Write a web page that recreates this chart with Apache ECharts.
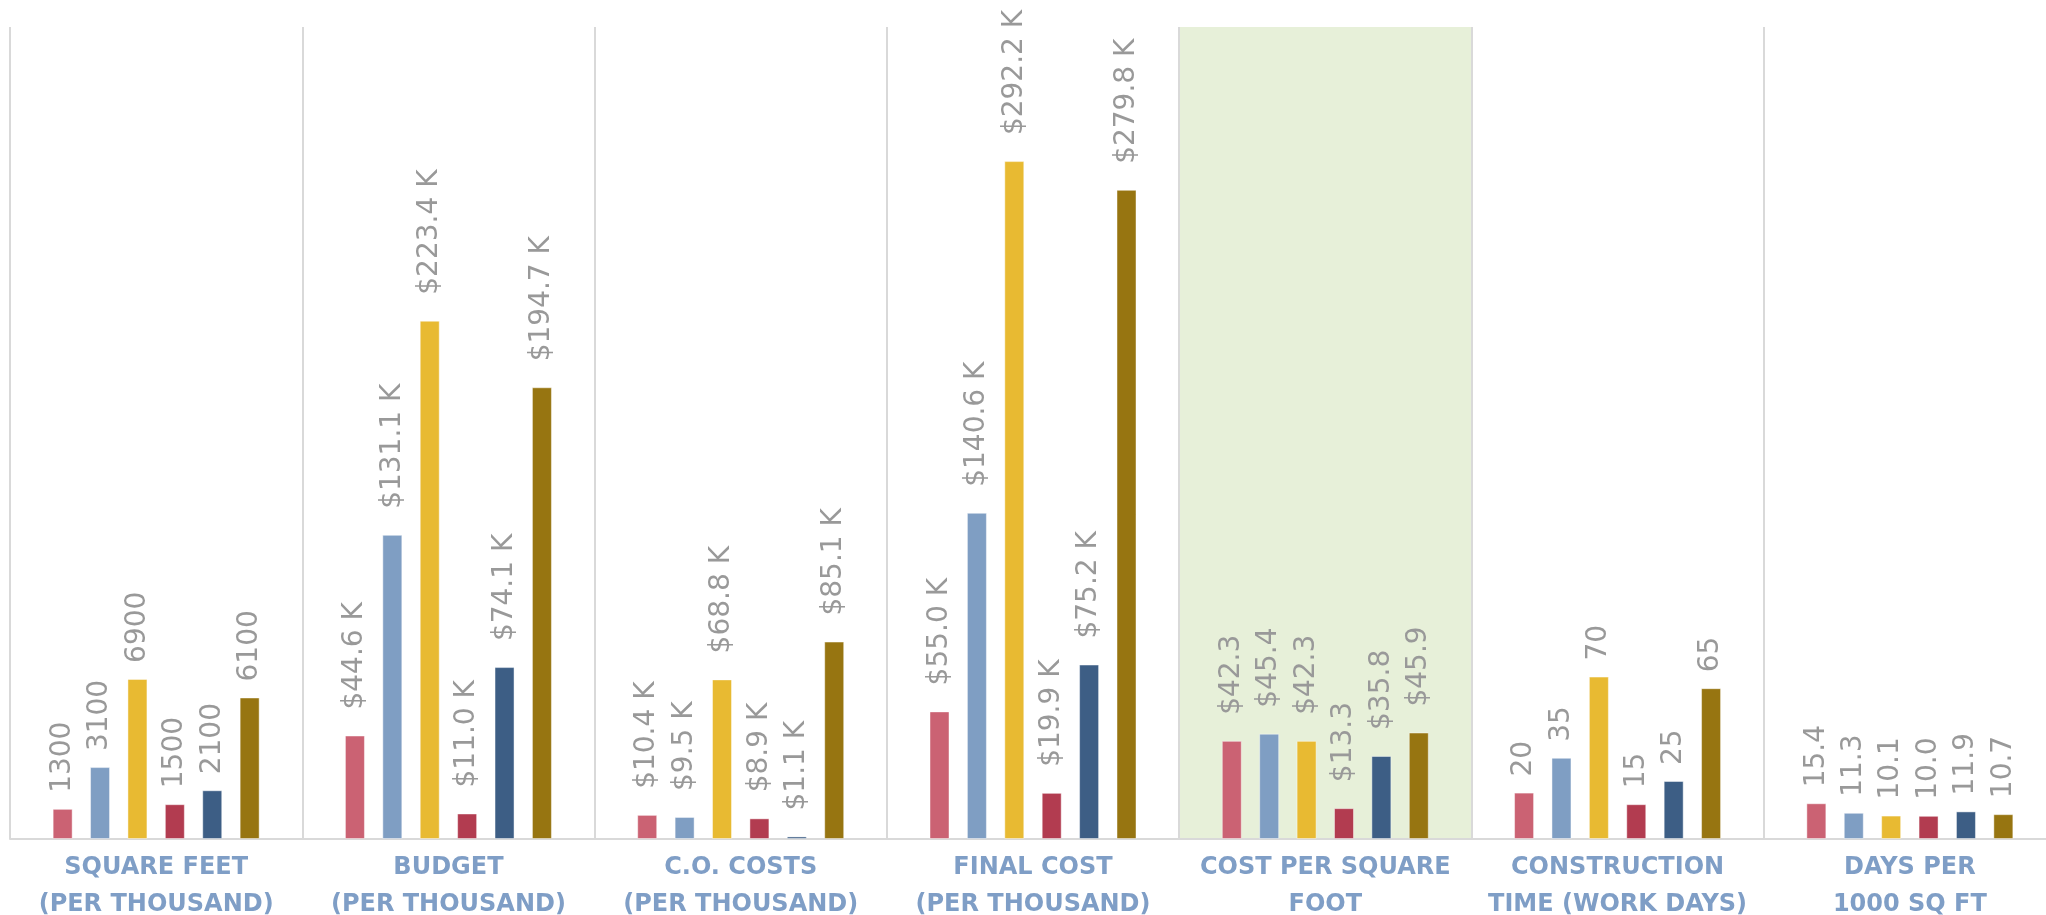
<!DOCTYPE html>
<html>
<head>
<meta charset="utf-8">
<script src="https://cdn.jsdelivr.net/npm/echarts@6/dist/echarts.min.js"></script>
<style>
  html, body { margin: 0; padding: 0; background: #ffffff; overflow: hidden; }
  #chart { width: 2056px; height: 915px; }
</style>
</head>
<body>
<div id="chart"></div>
<script>
// ---- Data ----
var categories = [
  'SQUARE FEET\n(PER THOUSAND)',
  'BUDGET\n(PER THOUSAND)',
  'C.O. COSTS\n(PER THOUSAND)',
  'FINAL COST\n(PER THOUSAND)',
  'COST PER SQUARE\nFOOT',
  'CONSTRUCTION\nTIME (WORK DAYS)',
  'DAYS PER\n1000 SQ FT'
];
// plotted value = shown value * plotScale (square feet drawn in hundreds)
var plotScale = [0.01, 1, 1, 1, 1, 1, 1];
// label format per category
var labelFormat = ['int', '$K', '$K', '$K', '$', 'int', 'dec'];

var seriesNames = ['Project 1', 'Project 2', 'Project 3', 'Project 4', 'Project 5', 'Project 6'];
var series1 = [1300, 44.6, 10.4, 55.0, 42.3, 20, 15.4];
var series2 = [3100, 131.1, 9.5, 140.6, 45.4, 35, 11.3];
var series3 = [6900, 223.4, 68.8, 292.2, 42.3, 70, 10.1];
var series4 = [1500, 11.0, 8.9, 19.9, 13.3, 15, 10.0];
var series5 = [2100, 74.1, 1.1, 75.2, 35.8, 25, 11.9];
var series6 = [6100, 194.7, 85.1, 279.8, 45.9, 65, 10.7];
var allSeries = [series1, series2, series3, series4, series5, series6];
var colors = ['#CB6273', '#7F9EC3', '#E8BA32', '#B23C50', '#3D5E85', '#977511'];

function fmt(v, f) {
  if (f === 'int') return String(Math.round(v));
  if (f === '$K') return '$' + v.toFixed(1) + ' K';
  if (f === '$') return '$' + v.toFixed(1);
  return v.toFixed(1);
}

var chart = echarts.init(document.getElementById('chart'));

var seriesList = allSeries.map(function (vals, si) {
  return {
    name: seriesNames[si],
    type: 'bar',
    barWidth: 20,
    barGap: '87%',
    itemStyle: { color: colors[si], borderColor: 'rgba(255,255,255,0.45)', borderWidth: 1 },
    label: {
      show: true,
      position: 'top',
      rotate: 90,
      align: 'left',
      verticalAlign: 'middle',
      offset: [0, 0],
      color: '#999999',
      fontFamily: 'DejaVu Sans',
      fontSize: 28,
      formatter: function (p) { return fmt(vals[p.dataIndex], labelFormat[p.dataIndex]); }
    },
    data: vals.map(function (v, ci) {
      var isDollar = labelFormat[ci].charAt(0) === '$';
      return { value: v * plotScale[ci], label: { distance: isDollar ? 26 : 16 } };
    })
  };
});

var areaColors = categories.map(function (c, i) { return i === 4 ? '#E7F0D9' : 'rgba(0,0,0,0)'; });

chart.setOption({
  animation: false,
  backgroundColor: '#ffffff',
  grid: { left: 10, top: 27, right: 0, bottom: 76, containLabel: false, outerBoundsMode: 'none' },
  xAxis: {
    type: 'category',
    data: categories,
    axisLine: { show: true, lineStyle: { color: '#D9D9D9', width: 2 } },
    axisTick: { show: false },
    splitLine: { show: true, interval: 0, lineStyle: { color: '#D9D9D9', width: 2 } },
    splitArea: { show: true, interval: 0, areaStyle: { color: areaColors } },
    axisLabel: {
      interval: 0,
      margin: 10,
      color: '#7F9EC6',
      fontFamily: 'DejaVu Sans',
      fontWeight: 'bold',
      fontSize: 24,
      lineHeight: 37
    }
  },
  yAxis: {
    type: 'value',
    min: 0,
    max: 350,
    show: false,
    splitLine: { show: false }
  },
  series: seriesList
});
</script>
</body>
</html>
